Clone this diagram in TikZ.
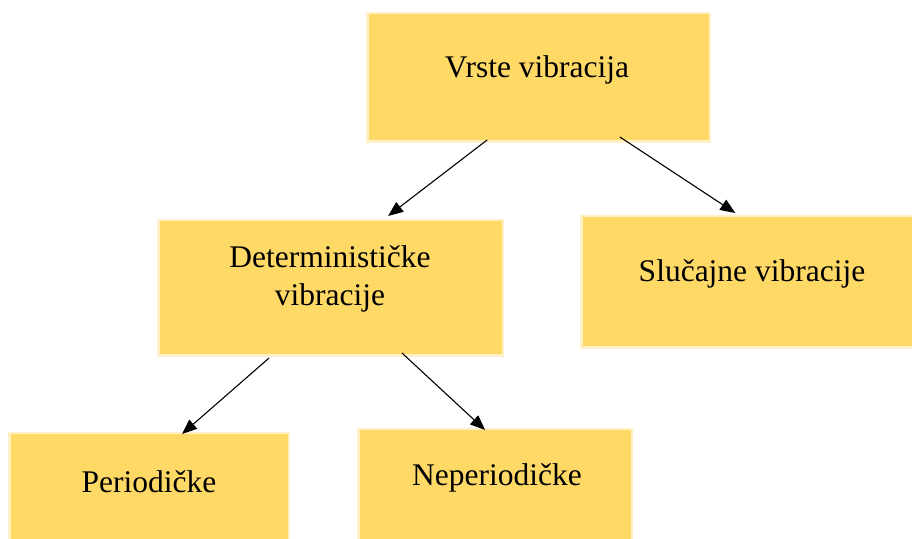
\documentclass[tikz,border=0pt]{standalone}
\usepackage{fontspec}
\setmainfont{Liberation Serif}
\usetikzlibrary{arrows.meta,calc}
\definecolor{boxfill}{RGB}{255,217,102}
\definecolor{boxedge}{RGB}{255,240,200}
\begin{document}
\begin{tikzpicture}[x=1pt,y=1pt,
  box/.style={draw=boxedge, fill=boxfill, line width=2.5pt, rectangle, inner sep=0pt},
  lbl/.style={font=\fontsize{31.5}{38}\selectfont, inner sep=0pt, text=black},
  conn/.style={draw=black, line width=1.1pt, -{Triangle[length=15pt,width=12pt]}}]
\useasboundingbox (0,0) rectangle (912,538);
% boxes
\node[box, minimum width=342.5pt, minimum height=128.5pt] (top) at (538.5,460.5) {};
\node[box, minimum width=344.5pt, minimum height=135.5pt] (det) at (330.5,250) {};
\node[box, minimum width=331.5pt, minimum height=131.5pt] (sluc) at (747,256) {};
\node[box, minimum width=279.5pt, minimum height=115.5pt] (per) at (149,47) {};
\node[box, minimum width=273.5pt, minimum height=119.5pt] (nep) at (495,49) {};
% texts
\node[lbl, anchor=base] (toptxt) at (537,460) {Vrste vibracija};
\node[lbl, align=center, anchor=center] (dettxt) at (330,259) {Determinističke\\vibracije};
\node[lbl, anchor=base] (sluctxt) at (752,256) {Slučajne vibracije};
\node[lbl, anchor=base] (pertxt) at (149,46) {Periodičke};
\node[lbl, anchor=base] (neptxt) at (497,53) {Neperiodičke};
% connectors
\draw[conn] ($(top.south west)!0.351!(top.south east)+(0,3)$) -- ($(det.north west)!0.666!(det.north east)+(0,3)$);
\draw[conn] ($(top.south west)!0.736!(top.south east)+(0,6)$) -- ($(sluc.north west)!0.465!(sluc.north east)+(0,2)$);
\draw[conn] ($(det.south west)!0.323!(det.south east)+(0,-1)$) -- ($(per.north west)!0.617!(per.north east)+(0,-2)$);
\draw[conn] ($(det.south west)!0.706!(det.south east)+(0,4)$) -- ($(nep.north west)!0.464!(nep.north east)+(0,-2)$);
\end{tikzpicture}
\end{document}
